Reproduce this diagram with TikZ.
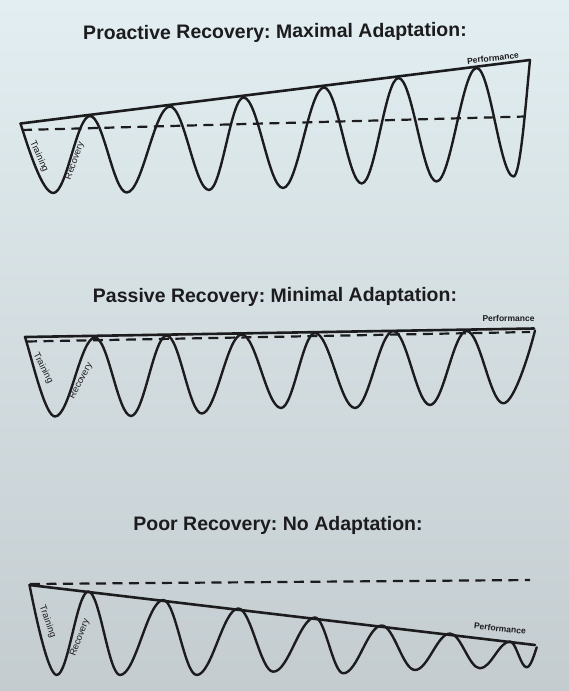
\documentclass[tikz,border=0pt]{standalone}
\usepackage{fontspec}
\setmainfont{Liberation Sans}
\frenchspacing
\definecolor{ink}{RGB}{28,28,30}
\definecolor{bgtop}{RGB}{226,238,241}
\definecolor{bgbot}{RGB}{196,204,208}
\tikzset{
  wave/.style={draw=ink, line width=2.4pt, line join=round, line cap=round},
  perfline/.style={draw=ink, line width=2.6pt, line cap=round},
  dashline/.style={draw=ink, line width=2.2pt, dash pattern=on 10pt off 6.5pt},
  titletext/.style={font=\fontsize{19.5}{22}\selectfont\bfseries, text=ink, inner sep=0pt},
  lab/.style={font=\fontsize{9.3}{10}\selectfont, text=ink, inner sep=0pt},
  perflab/.style={font=\fontsize{8.5}{10}\selectfont\bfseries, text=ink, inner sep=0pt}
}
\begin{document}
\begin{tikzpicture}[x=1pt,y=-1pt]
\useasboundingbox (0,0) rectangle (569,691);
\shade[top color=bgtop, bottom color=bgbot] (0,0) rectangle (569,691);

% ---------------- Panel 1 ----------------
\node[titletext, rotate=0.5] (t1) at (275,33) {Proactive Recovery: Maximal Adaptation:};
\coordinate (a1) at (20.5,123.5);
\coordinate (b1) at (530,60);
\coordinate (da1) at (22,130);
\coordinate (db1) at (525,116.5);
\draw[dashline] (da1) -- (db1);
\draw[perfline] (a1) -- (b1);
\draw[wave] (a1)
  .. controls +(8,25) and +(-11,0) .. (53.3,193)
  .. controls +(13.4,0) and +(-13.4,0) .. (90,116)
  .. controls +(13.4,0) and +(-13.4,0) .. (126.7,192.5)
  .. controls +(15.8,0) and +(-15.8,0) .. (170,106.5)
  .. controls +(14.2,0) and +(-14.2,0) .. (209,190)
  .. controls +(12.6,0) and +(-12.6,0) .. (243.5,97.5)
  .. controls +(14.4,0) and +(-14.4,0) .. (283,188)
  .. controls +(14.9,0) and +(-14.9,0) .. (324,87.5)
  .. controls +(13.7,0) and +(-13.7,0) .. (361.7,183.5)
  .. controls +(13.4,0) and +(-13.4,0) .. (398.5,78)
  .. controls +(13.8,0) and +(-13.8,0) .. (436.5,181.5)
  .. controls +(14.6,0) and +(-14.6,0) .. (476.7,68)
  .. controls +(13.4,0) and +(-13.4,0) .. (513.5,176.5)
  .. controls +(7,0) and +(-4,40) .. (b1);
\node[lab, rotate=-66] (tr1) at (39,156.5) {Training};
\node[lab, rotate=70] (rc1) at (75,161) {Recovery};
\node[perflab, rotate=7] (pf1) at (493,58) {Performance};

% ---------------- Panel 2 ----------------
\node[titletext, rotate=0.3] (t2) at (275,297) {Passive Recovery: Minimal Adaptation:};
\coordinate (a2) at (25,337);
\coordinate (b2) at (534,328.5);
\coordinate (e2) at (535,330.5);
\coordinate (da2) at (27,341.5);
\coordinate (db2) at (530,332);
\draw[dashline] (da2) -- (db2);
\draw[perfline] (a2) -- (b2);
\draw[wave] (a2)
  .. controls +(7,22) and +(-10,0) .. (55,416.5)
  .. controls +(14.6,0) and +(-14.6,0) .. (95,337.5)
  .. controls +(13.1,0) and +(-13.1,0) .. (131,416)
  .. controls +(13,0) and +(-13,0) .. (166.7,335.5)
  .. controls +(12.7,0) and +(-12.7,0) .. (201.7,413.5)
  .. controls +(14.6,0) and +(-14.6,0) .. (241.7,334.5)
  .. controls +(14.3,0) and +(-14.3,0) .. (281,408)
  .. controls +(12.4,0) and +(-12.4,0) .. (315,333)
  .. controls +(14.6,0) and +(-14.6,0) .. (355,408)
  .. controls +(13.9,0) and +(-13.9,0) .. (393.3,331)
  .. controls +(13.4,0) and +(-13.4,0) .. (430,405)
  .. controls +(13.4,0) and +(-13.4,0) .. (466.7,331)
  .. controls +(13.3,0) and +(-13.3,0) .. (503.3,403.3)
  .. controls +(11,0) and +(-5,20) .. (e2);
\node[lab, rotate=-63] (tr2) at (43,368) {Training};
\node[lab, rotate=62] (rc2) at (81,381) {Recovery};
\node[perflab] (pf2) at (508.5,318) {Performance};

% ---------------- Panel 3 ----------------
\node[titletext] (t3) at (278,525) {Poor Recovery: No Adaptation:};
\coordinate (a3) at (29.5,585);
\coordinate (b3) at (535,645);
\coordinate (e3) at (536.7,647.3);
\coordinate (da3) at (30,584);
\coordinate (db3) at (530,580);
\draw[dashline] (da3) -- (db3);
\draw[perfline] (a3) -- (b3);
\draw[wave] (a3)
  .. controls +(5,25) and +(-9,0) .. (56.7,675)
  .. controls +(11.5,0) and +(-11.5,0) .. (88.3,591.5)
  .. controls +(11.5,0) and +(-11.5,0) .. (120,675)
  .. controls +(15.8,0) and +(-15.8,0) .. (163.3,600)
  .. controls +(12.2,0) and +(-12.2,0) .. (196.7,675)
  .. controls +(15.1,0) and +(-15.1,0) .. (238.3,608.5)
  .. controls +(12.7,0) and +(-12.7,0) .. (273.3,671.7)
  .. controls +(15.2,0) and +(-15.2,0) .. (315,617.5)
  .. controls +(10.3,0) and +(-10.3,0) .. (343.3,673.3)
  .. controls +(14,0) and +(-14,0) .. (381.7,625.5)
  .. controls +(12.1,0) and +(-12.1,0) .. (415,670)
  .. controls +(12.7,0) and +(-12.7,0) .. (450,633.5)
  .. controls +(10.9,0) and +(-10.9,0) .. (480,668.3)
  .. controls +(10.9,0) and +(-10.9,0) .. (510,641.5)
  .. controls +(6.1,0) and +(-6.1,0) .. (526.7,667.3)
  .. controls +(4,0) and +(-2,6) .. (e3);
\node[lab, rotate=-70] (tr3) at (47.5,621.7) {Training};
\node[lab, rotate=69] (rc3) at (80,637.5) {Recovery};
\node[perflab, rotate=-6.5] (pf3) at (500,628.5) {Performance};
\end{tikzpicture}
\end{document}
